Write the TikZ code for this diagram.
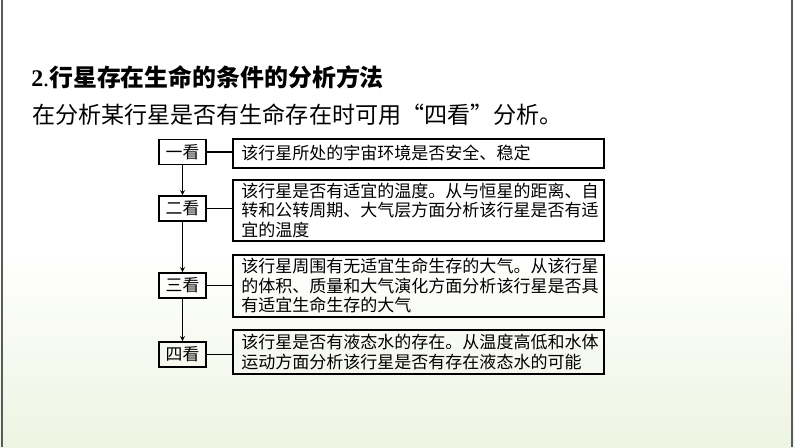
\documentclass[tikz,border=0pt]{standalone}
\usepackage{fontspec}
\setmainfont{Liberation Serif}
\newfontfamily\cjk{Noto Sans CJK SC}
\definecolor{bggreen}{RGB}{238,244,226}
\definecolor{edgegray}{RGB}{90,90,90}
\begin{document}
\begin{tikzpicture}[x=0.025cm,y=-0.025cm,>=stealth,
	lbl/.style={draw,line width=1.1pt,minimum width=1.175cm,minimum height=0.63cm,inner sep=0pt,font=\cjk\fontsize{12}{14}\selectfont},
	txt/.style={draw,line width=1.1pt,anchor=north west,minimum width=9.275cm,text width=8.85cm,align=left,inner xsep=4.5pt,inner ysep=2pt,font=\cjk\fontsize{12.1}{13.9}\selectfont}]
	\useasboundingbox (0,0) rectangle (794,447);
	\fill[white] (0,0) rectangle (794,447);
	\shade[top color=white,bottom color=bggreen] (0,250) rectangle (794,447);
	\draw[edgegray,line width=0.8pt] (2,0)--(2,447);
	\draw[edgegray,line width=0.8pt] (792,0)--(792,447);
	% title lines
	\node[anchor=base west,inner sep=0pt,font=\fontsize{17}{20}\selectfont] (title) at (31,86) {\textbf{2}.{\cjk\bfseries 行星存在生命的条件的分析方法}};
	\node[anchor=base west,inner sep=0pt,font=\cjk\fontsize{16.4}{20}\selectfont] (intro) at (32,123) {在分析某行星是否有生命存在时可用“四看”分析。};
	% the four steps
	\node[lbl] (k1) at (182.5,152) {一看};
	\node[lbl] (k2) at (182.5,208.5) {二看};
	\node[lbl] (k3) at (182.5,285.5) {三看};
	\node[lbl] (k4) at (182.5,354.5) {四看};
	\node[txt,minimum height=0.725cm] (t1) at (232,138) {该行星所处的宇宙环境是否安全、稳定};
	\node[txt,minimum height=1.525cm] (t2) at (232,179) {该行星是否有适宜的温度。从与恒星的距离、自\\转和公转周期、大气层方面分析该行星是否有适\\宜的温度};
	\node[txt,minimum height=1.55cm] (t3) at (232,254) {该行星周围有无适宜生命生存的大气。从该行星\\的体积、质量和大气演化方面分析该行星是否具\\有适宜生命生存的大气};
	\node[txt,minimum height=1.1cm] (t4) at (232,329) {该行星是否有液态水的存在。从温度高低和水体\\运动方面分析该行星是否有存在液态水的可能};
	\foreach \i in {1,...,4}\draw[thick] (k\i.east)--(k\i.east -| t\i.west);
	\foreach \i/\j in {1/2,2/3,3/4}\draw[->,semithick] (k\i)--(k\j);
\end{tikzpicture}
\end{document}
